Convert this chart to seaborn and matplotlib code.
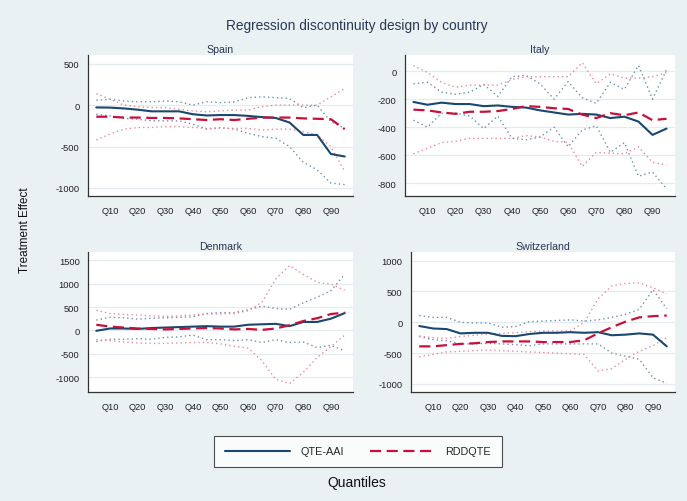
import numpy as np
import pandas as pd
import matplotlib
matplotlib.use('Agg')
import matplotlib.pyplot as plt
import seaborn as sns
from matplotlib.lines import Line2D

# quantiles 5..95
quantiles = [5, 10, 15, 20, 25, 30, 35, 40, 45, 50, 55, 60, 65, 70, 75, 80, 85, 90, 95]
tick_labels = ['Q10', 'Q20', 'Q30', 'Q40', 'Q50', 'Q60', 'Q70', 'Q80', 'Q90']

# Spain
spain_qte = [-28, -30, -40, -55, -75, -75, -75, -110, -125, -120, -120, -130, -145, -155, -210, -360, -360, -590, -620]
spain_qte_hi = [60, 70, 50, 40, 40, 50, 40, 0, 40, 30, 40, 90, 100, 90, 80, -30, 0, -200, -280]
spain_qte_lo = [-110, -130, -160, -170, -190, -190, -190, -230, -290, -270, -290, -340, -380, -400, -500, -690, -780, -940, -960]
spain_rdd = [-140, -140, -150, -150, -155, -155, -160, -170, -180, -170, -180, -165, -150, -150, -150, -160, -165, -170, -290]
spain_rdd_hi = [140, 70, 0, -20, -30, -30, -50, -70, -80, -70, -60, -60, -20, 0, 0, 0, 0, 100, 200]
spain_rdd_lo = [-420, -350, -290, -270, -270, -260, -260, -270, -280, -280, -280, -280, -300, -290, -290, -320, -360, -500, -800]

# Italy
italy_qte = [-220, -240, -225, -235, -235, -250, -245, -255, -260, -280, -295, -310, -305, -310, -335, -325, -360, -455, -410]
italy_qte_hi = [-90, -80, -150, -165, -150, -95, -180, -40, -30, -90, -200, -75, -190, -230, -80, -130, 40, -200, 10]
italy_qte_lo = [-350, -400, -300, -300, -320, -410, -320, -480, -490, -470, -400, -540, -420, -390, -580, -510, -750, -720, -840]
italy_rdd = [-275, -280, -295, -305, -290, -290, -285, -270, -250, -255, -265, -270, -310, -335, -300, -315, -295, -350, -340]
italy_rdd_hi = [40, -10, -80, -115, -100, -100, -100, -60, -40, -40, -40, -40, 60, -90, -20, -50, -50, -40, -10]
italy_rdd_lo = [-590, -550, -510, -500, -480, -480, -480, -480, -460, -470, -500, -510, -680, -580, -585, -590, -540, -650, -670]

# Denmark
denmark_qte = [-10, 40, 40, 30, 50, 60, 70, 80, 90, 80, 80, 120, 130, 140, 90, 180, 180, 250, 370]
denmark_qte_hi = [220, 280, 270, 240, 260, 270, 280, 290, 360, 380, 380, 440, 520, 470, 450, 590, 710, 850, 1200]
denmark_qte_lo = [-240, -190, -190, -180, -190, -150, -140, -100, -200, -200, -220, -200, -260, -200, -260, -250, -370, -320, -440]
denmark_rdd = [120, 80, 60, 40, 30, 20, 30, 40, 50, 40, 20, 30, 10, 40, 110, 200, 260, 350, 380]
denmark_rdd_hi = [430, 360, 340, 330, 310, 300, 310, 330, 350, 350, 360, 420, 600, 1100, 1390, 1200, 1030, 990, 860]
denmark_rdd_lo = [-200, -220, -250, -270, -280, -280, -270, -260, -260, -290, -340, -380, -650, -1050, -1140, -900, -580, -350, -100]

# Switzerland
swiss_qte = [-60, -100, -110, -180, -170, -170, -220, -225, -190, -170, -170, -160, -170, -160, -210, -200, -180, -200, -390]
swiss_qte_hi = [110, 80, 80, 0, -10, -10, -80, -70, 10, 20, 30, 40, 20, 40, 80, 130, 210, 530, 220]
swiss_qte_lo = [-230, -280, -300, -350, -350, -340, -350, -360, -380, -350, -350, -350, -350, -350, -500, -550, -600, -900, -990]
swiss_rdd = [-390, -390, -370, -350, -340, -320, -310, -310, -310, -320, -320, -320, -290, -180, -80, 10, 80, 100, 110]
swiss_rdd_hi = [-220, -250, -260, -230, -210, -190, -180, -170, -150, -140, -140, -140, 0, 380, 590, 630, 640, 560, 460]
swiss_rdd_lo = [-560, -520, -480, -470, -460, -450, -460, -470, -480, -490, -500, -510, -520, -790, -750, -600, -470, -380, -250]

countries = {
    'Spain': (spain_qte, spain_qte_hi, spain_qte_lo, spain_rdd, spain_rdd_hi, spain_rdd_lo),
    'Italy': (italy_qte, italy_qte_hi, italy_qte_lo, italy_rdd, italy_rdd_hi, italy_rdd_lo),
    'Denmark': (denmark_qte, denmark_qte_hi, denmark_qte_lo, denmark_rdd, denmark_rdd_hi, denmark_rdd_lo),
    'Switzerland': (swiss_qte, swiss_qte_hi, swiss_qte_lo, swiss_rdd, swiss_rdd_hi, swiss_rdd_lo),
}

# layout of each panel: axes rect, ylim, yticks
panels = {
    'Spain': ([88 / 687, 1 - 197 / 502, 265 / 687, 141 / 502], (-1097, 605), [500, 0, -500, -1000]),
    'Italy': ([405 / 687, 1 - 197 / 502, 270 / 687, 141 / 502], (-891, 115), [0, -200, -400, -600, -800]),
    'Denmark': ([88 / 687, 1 - 393 / 502, 265 / 687, 140 / 502], (-1321, 1679), [1500, 1000, 500, 0, -500, -1000]),
    'Switzerland': ([411 / 687, 1 - 393 / 502, 264 / 687, 140 / 502], (-1130, 1140), [1000, 500, 0, -500, -1000]),
}

navy = '#1a476f'
red = '#c8103a'
bg = '#e9f1f3'
txt = '#2a3756'

sns.set_style('white')
plt.rcParams['font.family'] = ['Liberation Sans', 'DejaVu Sans']

fig = plt.figure(figsize=(6.87, 5.02), dpi=100)
fig.patch.set_facecolor(bg)

for name, series in countries.items():
    rect, ylim, yticks = panels[name]
    qte, qte_hi, qte_lo, rdd, rdd_hi, rdd_lo = series
    df = pd.DataFrame({'q': quantiles, 'qte': qte, 'qte_hi': qte_hi, 'qte_lo': qte_lo,
                       'rdd': rdd, 'rdd_hi': rdd_hi, 'rdd_lo': rdd_lo})
    ax = fig.add_axes(rect)
    ax.set_facecolor('white')
    for y in yticks:
        ax.axhline(y, color='#e3ecef', lw=0.9, zorder=0)
    for col in ['qte_hi', 'qte_lo']:
        sns.lineplot(data=df, x='q', y=col, ax=ax, color='#6f8fae', lw=1.0, linestyle=(0, (1, 2.2)))
    for col in ['rdd_hi', 'rdd_lo']:
        sns.lineplot(data=df, x='q', y=col, ax=ax, color='#e78aa0', lw=1.0, linestyle=(0, (1, 2.2)))
    sns.lineplot(data=df, x='q', y='qte', ax=ax, color=navy, lw=1.5)
    sns.lineplot(data=df, x='q', y='rdd', ax=ax, color=red, lw=1.6, linestyle=(0, (5, 2.5)))
    ax.set_xlim(2, 98)
    ax.set_ylim(*ylim)
    ax.set_xticks(range(10, 100, 10))
    ax.set_xticklabels(tick_labels)
    ax.set_yticks(yticks)
    ax.set_yticklabels([str(v) for v in yticks])
    ax.set_xlabel('')
    ax.set_ylabel('')
    ax.tick_params(axis='both', labelsize=6.7, length=3.5, width=0.8, color='#333333',
                   labelcolor='#222222', direction='out', pad=2.5)
    ax.tick_params(axis='x', pad=3.5)
    for s in ['top', 'right']:
        ax.spines[s].set_visible(False)
    for s in ['left', 'bottom']:
        ax.spines[s].set_color('#333333')
        ax.spines[s].set_linewidth(0.9)
    ax.set_title(name, fontsize=7.6, color=txt, pad=2.5)

fig.text(357 / 687, 1 - 26 / 502, 'Regression discontinuity design by country',
         ha='center', va='center', fontsize=9.9, color=txt)
fig.text(25 / 687, 1 - 230 / 502, 'Treatment Effect', rotation=90,
         ha='center', va='center', fontsize=8.4, color='#111111')
fig.text(357 / 687, 1 - 483 / 502, 'Quantiles', ha='center', va='center',
         fontsize=10, color='#111111')

handles = [Line2D([], [], color=navy, lw=1.5),
           Line2D([], [], color=red, lw=1.6, linestyle=(0, (5, 2.5)))]
leg = fig.legend(handles, ['QTE-AAI', 'RDDQTE'], loc='center', ncol=2,
                 bbox_to_anchor=(358 / 687, 1 - 452.5 / 502), fontsize=7.8,
                 frameon=True, fancybox=False, handlelength=6.0, handletextpad=0.95,
                 columnspacing=2.4, borderpad=1.0, borderaxespad=0)
leg.get_frame().set_edgecolor('#222222')
leg.get_frame().set_linewidth(0.8)
leg.get_frame().set_facecolor('white')

fig.savefig('out.png', dpi=100, facecolor=bg)
